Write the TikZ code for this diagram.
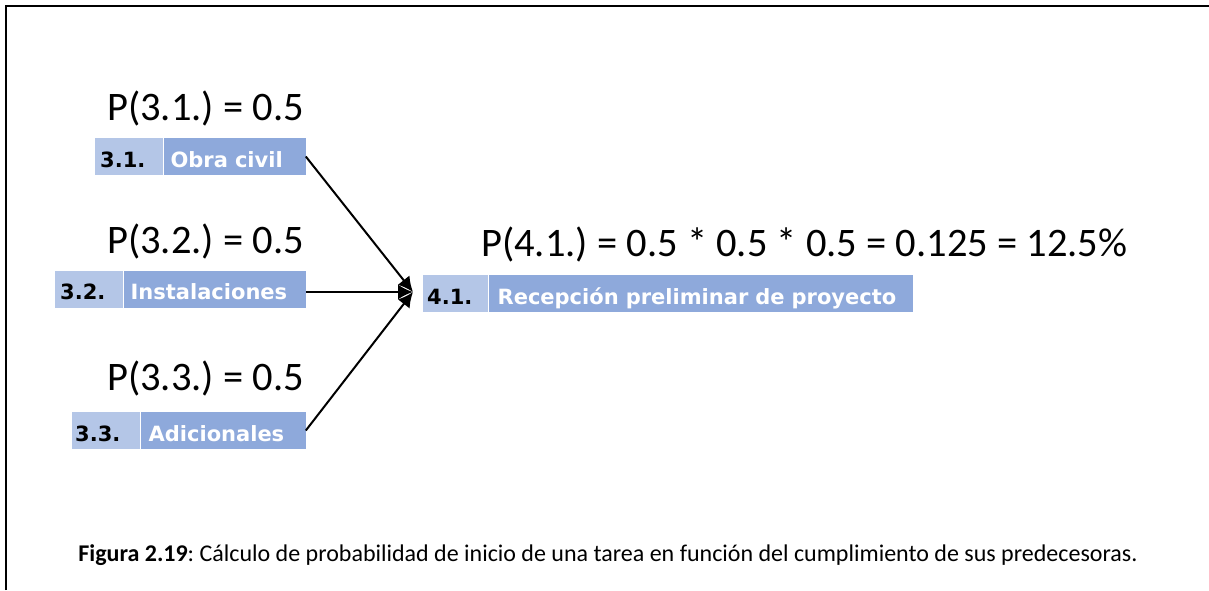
\documentclass[tikz,border=0pt]{standalone}
\usepackage{fontspec}
\setmainfont{Carlito}
\newfontfamily\boxfont{DejaVu Sans}
\usetikzlibrary{arrows.meta}
\definecolor{lightblue}{HTML}{B4C6E7}
\definecolor{darkblue}{HTML}{8EA9DB}
\frenchspacing
\tikzset{
  boxbase/.style={rectangle, inner ysep=0pt, minimum height=37pt, text height=29pt, text depth=8pt,
    align=left, anchor=west, font=\frenchspacing\boxfont\bfseries\fontsize{21}{21}\selectfont},
  numbox/.style={boxbase, fill=lightblue, text=black},
  namebox/.style={boxbase, fill=darkblue, text=white},
  prob/.style={anchor=base west, inner sep=0pt, font=\frenchspacing\fontsize{40.5}{40.5}\selectfont},
  conn/.style={line width=2pt, -{Latex[length=15pt,width=15pt]}},
}
\begin{document}
\begin{tikzpicture}[x=1pt,y=-1pt]
\useasboundingbox (0,0) rectangle (1209,590);
\draw[line width=2.6pt] (6,590) -- (6,6) -- (1209,6);

% 3.1
\node[numbox, inner xsep=5pt, text width=58pt] (n31) at (95,156.5) {3.1.};
\node[namebox, inner xsep=7pt, text width=128pt] (t31) at (n31.east) {Obra civil};
% 3.2
\node[numbox, inner xsep=5pt, text width=58pt] (n32) at (55,289) {3.2.};
\node[namebox, inner xsep=7pt, text width=168pt] (t32) at (n32.east) {Instalaciones};
% 3.3
\node[numbox, inner xsep=3pt, text width=62pt] (n33) at (72,430.5) {3.3.};
\node[namebox, inner xsep=8pt, text width=149pt] (t33) at (n33.east) {Adicionales};
% 4.1
\node[numbox, inner xsep=4pt, text width=57pt] (n41) at (423,293.5) {4.1.};
\node[namebox, inner xsep=9pt, text width=406pt] (t41) at (n41.east) {Recepción preliminar de proyecto};

\node[prob] (p31) at (107,120) {P(3.1.) = 0.5};
\node[prob] (p32) at (107,253) {P(3.2.) = 0.5};
\node[prob] (p33) at (107,390) {P(3.3.) = 0.5};
\node[prob] (p41) at (481,256) {P(4.1.) = 0.5 * 0.5 * 0.5 = 0.125 = 12.5\%};

\coordinate (tgt) at ([xshift=-10pt,yshift=1.5pt]n41.west);
\draw[conn] (t31.east) -- (tgt);
\draw[conn] (t32.east |- tgt) -- (tgt);
\draw[conn] (t33.east) -- (tgt);

\node[anchor=base, inner sep=0pt, font=\fontsize{24}{24}\selectfont] (cap) at (608,561)
  {\textbf{Figura 2.19}: Cálculo de probabilidad de inicio de una tarea en función del cumplimiento de sus predecesoras.};
\end{tikzpicture}
\end{document}
